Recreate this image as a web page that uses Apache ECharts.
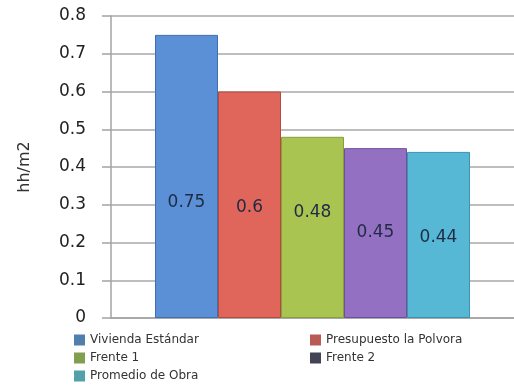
<!DOCTYPE html>
<html>
<head>
<meta charset="utf-8">
<script src="https://cdn.jsdelivr.net/npm/echarts@6/dist/echarts.min.js"></script>
<style>
  html, body { margin: 0; padding: 0; background: #ffffff; }
  #chart { width: 514px; height: 385px; }
</style>
</head>
<body>
<div id="chart"></div>
<script>
// Rendimiento de mano de obra (hh/m2) por referencia
const seriesNames = ['Vivienda Estándar', 'Presupuesto la Polvora', 'Frente 1', 'Frente 2', 'Promedio de Obra'];
const seriesValues = [0.75, 0.6, 0.48, 0.45, 0.44];
const categories = [''];
const yTicks = { min: 0, max: 0.8, interval: 0.1 };

const barColors = ['#5b8fd6', '#e0655a', '#a9c451', '#9470c2', '#57b8d6'];
const barEdges = ['#3f6fae', '#b44a40', '#85a03a', '#6f4f9a', '#3a93b0'];
const legendColors = ['#507fae', '#b85b55', '#809f4f', '#434356', '#52a0a9'];
// vertical nudge of each value label relative to the bar centre
const labelShift = [26, 3, -15, 0, 3];

const chart = echarts.init(document.getElementById('chart'), null, { renderer: 'canvas' });

const series = seriesNames.map((name, i) => ({
  name: name,
  type: 'bar',
  barWidth: 63,
  barGap: '0%',
  data: [seriesValues[i]],
  itemStyle: { color: barColors[i], borderColor: barEdges[i], borderWidth: 1 },
  label: {
    show: true,
    position: 'inside',
    offset: [0, labelShift[i]],
    formatter: () => String(seriesValues[i]),
    fontFamily: 'DejaVu Sans',
    fontSize: 17,
    color: '#1f2b45'
  }
}));

const legendText = { fontFamily: 'DejaVu Sans', fontSize: 12, color: '#333333' };
function legendItems(idx) {
  return idx.map(i => ({ name: seriesNames[i], itemStyle: { color: legendColors[i], borderWidth: 0 } }));
}

chart.setOption({
  animation: false,
  backgroundColor: '#ffffff',
  grid: { left: 111, top: 16, right: 0, bottom: 67 },
  legend: [
    {
      left: 74, top: 334, orient: 'vertical', itemGap: 6,
      itemWidth: 11, itemHeight: 11, icon: 'rect',
      textStyle: legendText, padding: 0,
      data: legendItems([0, 2, 4])
    },
    {
      left: 310, top: 334, orient: 'vertical', itemGap: 6,
      itemWidth: 11, itemHeight: 11, icon: 'rect',
      textStyle: legendText, padding: 0,
      data: legendItems([1, 3])
    }
  ],
  xAxis: {
    type: 'category',
    data: categories,
    axisLine: { show: true, lineStyle: { color: '#a3a3a3', width: 1.5 } },
    axisTick: { show: false },
    axisLabel: { show: false }
  },
  yAxis: {
    type: 'value',
    min: yTicks.min,
    max: yTicks.max,
    interval: yTicks.interval,
    name: 'hh/m2',
    nameLocation: 'middle',
    nameRotate: 90,
    nameGap: 78,
    nameTextStyle: { fontFamily: 'DejaVu Sans', fontSize: 16, color: '#333333' },
    axisLine: { show: true, lineStyle: { color: '#a3a3a3', width: 1.5 } },
    axisTick: { show: true, length: 9, lineStyle: { color: '#a3a3a3', width: 1.5 } },
    axisLabel: {
      fontFamily: 'DejaVu Sans', fontSize: 17, color: '#222222', margin: 25,
      formatter: v => String(Math.round(v * 10) / 10)
    },
    splitLine: { show: true, lineStyle: { color: '#a8a8a8', width: 1.5 } }
  },
  series: series
});
</script>
</body>
</html>
